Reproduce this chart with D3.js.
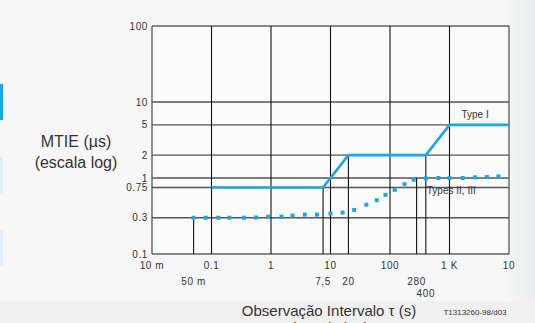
<!DOCTYPE html>
<html>
<head>
<meta charset="utf-8">
<script src="https://cdn.jsdelivr.net/npm/d3@7"></script>
<style>
  body { margin: 0; background: #f7f7f7; }
  svg { display: block; font-family: "Liberation Sans", Arial, sans-serif; }
</style>
</head>
<body>
<script>
// Type I mask (MTIE in us vs observation interval tau in s)
let typeITau = [0.1, 7.5, 20, 400, 1000, 10000];
let typeIMtie = [0.75, 0.75, 2, 2, 5, 5];

// Types II, III (dotted)
let typeIITau = [0.05, 0.08, 0.13, 0.2, 0.35, 0.56, 0.9, 1.5, 2.3, 3.7, 5.9, 10, 16, 25, 40, 60, 84, 120, 175, 250, 400, 650, 1000, 1670, 2680, 4240, 6630];
let typeIIMtie = [0.3, 0.3, 0.3, 0.3, 0.3, 0.302, 0.31, 0.31, 0.32, 0.33, 0.33, 0.34, 0.35, 0.38, 0.445, 0.51, 0.6, 0.7, 0.83, 0.95, 0.99, 1.0, 1.0, 1.0, 1.02, 1.03, 1.05];

// drop lines from the masks down to the axis
let dropTau = [0.05, 7.5, 20, 280, 400];
let dropTop = [0.3, 0.75, 2, 1, 2];

let yTicks = [100, 10, 5, 2, 1, 0.75, 0.3, 0.1];
let yTickLabels = ['100', '10', '5', '2', '1', '0.75', '0.3', '0.1'];
let xGrid = [0.1, 1, 10, 100, 1000];
let xTicks1 = [0.01, 0.1, 1, 10, 100, 1000, 10000];
let xLabels1 = ['10 m', '0.1', '1', '10', '100', '1 K', '10'];
let xTicks2 = [0.05, 7.5, 20, 280];
let xLabels2 = ['50 m', '7,5', '20', '280'];
let xTicks3 = [400];
let xLabels3 = ['400'];

let W = 535, H = 323;
let blue = '#1aa7e6';

let svg = d3.select('body').append('svg')
    .attr('width', W)
    .attr('height', H);

// background
let defs = svg.append('defs');
let grad = defs.append('linearGradient').attr('id', 'rightfade');
grad.append('stop').attr('offset', '0%').attr('stop-color', '#f8f8f8');
grad.append('stop').attr('offset', '100%').attr('stop-color', '#eaeced');
svg.append('rect').attr('width', W).attr('height', H).attr('fill', '#f7f7f7');
svg.append('rect').attr('x', 500).attr('width', 35).attr('height', H).attr('fill', 'url(#rightfade)');
svg.append('rect').attr('y', 301).attr('width', W).attr('height', 22).attr('fill', '#f0f0f0');
svg.append('rect').attr('x', 0).attr('y', 84).attr('width', 3).attr('height', 36).attr('fill', blue);
svg.append('rect').attr('x', 0).attr('y', 157).attr('width', 3).attr('height', 36).attr('fill', '#e2edf8');
svg.append('rect').attr('x', 0).attr('y', 230).attr('width', 3).attr('height', 36).attr('fill', '#e2edf8');

let x = d3.scaleLog().domain([0.01, 10000]).range([152, 509]);
let y = d3.scaleLog().domain([0.1, 100]).range([254, 26]);

svg.append('rect')
    .attr('x', x(0.01)).attr('y', y(100))
    .attr('width', x(10000) - x(0.01)).attr('height', y(0.1) - y(100))
    .attr('fill', '#fbfbfb');

// horizontal grid
svg.selectAll('.hgrid')
    .data(yTicks)
  .enter().append('line')
    .attr('class', 'hgrid')
    .attr('x1', x(0.01)).attr('x2', x(10000))
    .attr('y1', function(d){ return y(d); })
    .attr('y2', function(d){ return y(d); })
    .attr('stroke', function(d){ return (d === 100 || d === 0.1) ? '#888' : '#555'; })
    .attr('stroke-width', function(d){ return (d === 100 || d === 0.1) ? 1.8 : 1.3; });

// vertical grid
svg.selectAll('.vgrid')
    .data(xGrid)
  .enter().append('line')
    .attr('class', 'vgrid')
    .attr('x1', function(d){ return x(d); })
    .attr('x2', function(d){ return x(d); })
    .attr('y1', y(100)).attr('y2', y(0.1))
    .attr('stroke', '#111').attr('stroke-width', 1.1);

// borders left / right
[0.01, 10000].forEach(function(d){
  svg.append('line')
      .attr('x1', x(d)).attr('x2', x(d))
      .attr('y1', y(100)).attr('y2', y(0.1))
      .attr('stroke', '#555').attr('stroke-width', 1.3);
});

// drop lines
svg.selectAll('.drop')
    .data(dropTau)
  .enter().append('line')
    .attr('class', 'drop')
    .attr('x1', function(d){ return x(d); })
    .attr('x2', function(d){ return x(d); })
    .attr('y1', function(d, i){ return y(dropTop[i]); })
    .attr('y2', y(0.1))
    .attr('stroke', '#111').attr('stroke-width', 1.1);

// Type I line
let line = d3.line()
  .x(function(d){ return x(d[0]); })
  .y(function(d){ return y(d[1]); });

svg.append('path')
    .datum(d3.zip(typeITau, typeIMtie))
    .attr('d', line)
    .attr('fill', 'none')
    .attr('stroke', blue)
    .attr('stroke-width', 2.6);

// Types II, III dots
svg.selectAll('.dot')
    .data(d3.zip(typeIITau, typeIIMtie))
  .enter().append('rect')
    .attr('class', 'dot')
    .attr('x', function(d){ return x(d[0]) - 2; })
    .attr('y', function(d){ return y(d[1]) - 2; })
    .attr('width', 4).attr('height', 4)
    .attr('fill', blue);

// y tick labels
svg.selectAll('.ylab')
    .data(yTicks)
  .enter().append('text')
    .attr('class', 'ylab')
    .attr('x', 148)
    .attr('y', function(d){ return y(d); })
    .attr('dy', '0.35em')
    .attr('text-anchor', 'end')
    .attr('font-size', 10)
    .attr('letter-spacing', 0.6)
    .attr('fill', '#333')
    .text(function(d, i){ return yTickLabels[i]; });

// x tick labels (three rows)
function xRow(ticks, labels, yy) {
  svg.selectAll(null)
      .data(ticks)
    .enter().append('text')
      .attr('x', function(d){ return x(d); })
      .attr('y', yy)
      .attr('text-anchor', 'middle')
      .attr('font-size', 10)
      .attr('letter-spacing', 0.6)
      .attr('fill', '#333')
      .text(function(d, i){ return labels[i]; });
}
xRow(xTicks1, xLabels1, 269);
xRow(xTicks2, xLabels2, 285);
xRow(xTicks3, xLabels3, 297);

// series labels
svg.append('text')
    .attr('x', x(1000) + 12).attr('y', y(5) - 7)
    .attr('font-size', 10).attr('fill', '#333')
    .text('Type I');
svg.append('text')
    .attr('x', x(400) + 1).attr('y', y(1) + 16)
    .attr('font-size', 10).attr('fill', '#333')
    .text('Types II, III');

// axis titles
svg.append('text')
    .attr('x', 76).attr('y', 147)
    .attr('text-anchor', 'middle')
    .attr('font-size', 16).attr('fill', '#333')
    .text('MTIE (µs)');
svg.append('text')
    .attr('x', 76).attr('y', 168)
    .attr('text-anchor', 'middle')
    .attr('font-size', 16).attr('fill', '#333')
    .text('(escala log)');

svg.append('text')
    .attr('x', 329).attr('y', 316)
    .attr('text-anchor', 'middle')
    .attr('font-size', 15).attr('fill', '#333')
    .text('Observação Intervalo τ (s)');
svg.append('text')
    .attr('x', 330).attr('y', 333)
    .attr('text-anchor', 'middle')
    .attr('font-size', 15).attr('fill', '#333')
    .text('(escala log)');

svg.append('text')
    .attr('x', 475).attr('y', 315)
    .attr('text-anchor', 'middle')
    .attr('font-size', 8).attr('fill', '#333')
    .text('T1313260-98/d03');
</script>
</body>
</html>
